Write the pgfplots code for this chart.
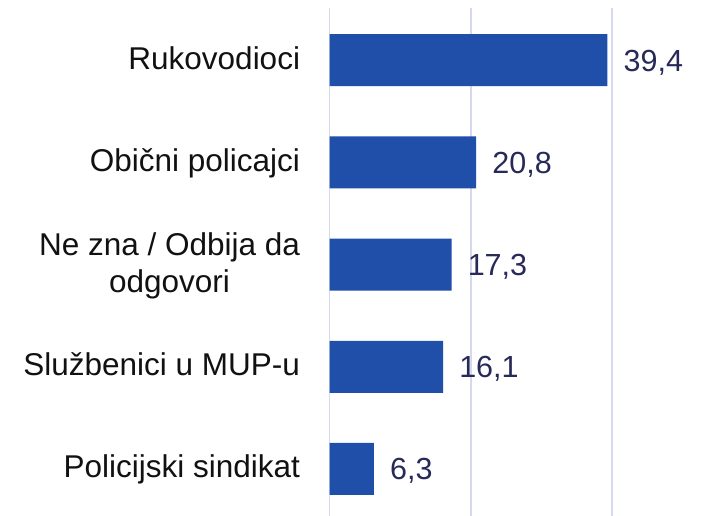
\documentclass[border=0pt]{standalone}
\usepackage{pgfplots}
\pgfplotsset{compat=1.18}
\usepackage{fontspec}
\setmainfont{Liberation Sans}
\definecolor{barc}{HTML}{1F4FA8}
\definecolor{gridc}{HTML}{D6D8EE}
\definecolor{valc}{HTML}{272A58}
\definecolor{labc}{HTML}{111111}
\begin{document}
\begin{tikzpicture}
\path[use as bounding box] (0,0) rectangle (708bp,516bp);
\begin{axis}[
  at={(329.5bp,0bp)}, anchor=south west,
  scale only axis, width=378.5bp, height=508bp,
  xmin=0, xmax=53.65, ymin=-0.51, ymax=4.46,
  y dir=reverse,
  axis line style={draw=none},
  major tick style={draw=none},
  xtick={0,20,40}, xticklabels={},
  xmajorgrids, grid style={color=gridc, line width=1.8bp},
  ytick={0,1,2,3,4},
  yticklabels={Rukovodioci,Obični policajci,{\raisebox{18.5bp}{\begin{tabular}[t]{@{}c@{}}Ne zna / Odbija da\\odgovori\end{tabular}}},Službenici u MUP-u,Policijski sindikat},
  y tick label style={font=\fontsize{31.5bp}{37bp}\selectfont, text=labc, anchor=base east, inner sep=0pt, xshift=-25bp, yshift=-9bp},
  xbar, bar width=52bp,
  clip=false,
  nodes near coords,
  nodes near coords style={font=\fontsize{30.5bp}{37bp}\selectfont, text=valc, anchor=base west, inner sep=0pt, xshift=16bp, yshift=-11bp,
    /pgf/number format/.cd, fixed, fixed zerofill, precision=1, use comma, assume math mode=true},
]
\addplot[fill=barc, draw=none] coordinates {(39.4,0) (20.8,1) (17.3,2) (16.1,3) (6.3,4)};
\end{axis}
\end{tikzpicture}
\end{document}
